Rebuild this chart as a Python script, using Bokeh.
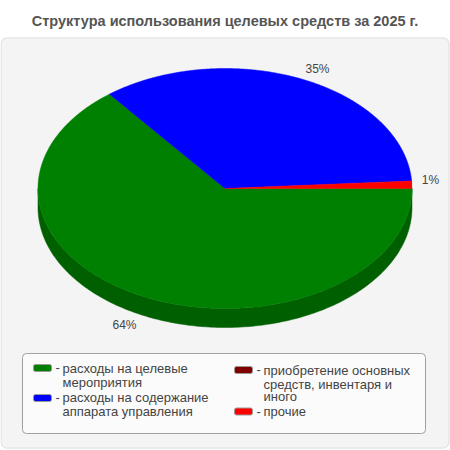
import numpy as np
from bokeh.plotting import figure
from bokeh.models import Range1d
from bokeh.core.properties import value
from bokeh.embed import file_html
from bokeh.resources import INLINE

title = "Структура использования целевых средств за 2025 г."
categories = ["расходы на целевые мероприятия", "расходы на содержание аппарата управления",
              "приобретение основных средств, инвентаря и иного", "прочие"]
values = [64.4, 34.6, 0.0, 1.0]
colors = ["#008000", "#0000ff", "#800000", "#ff0000"]
side_colors = ["#006000", "#0000c0", "#600000", "#c00000"]
pct_labels = ["64%", "35%", "", "1%"]
label_x = [124, 317, 0, 430]
label_y = [324, 68, 0, 179]

legend_left = [["расходы на целевые", "мероприятия"], ["расходы на содержание", "аппарата управления"]]
legend_right = [["приобретение основных", "средств, инвентаря и", "иного"], ["прочие"]]

FONT = value("Liberation Sans")
cx, cy, rx, ry, depth = 224.5, 188, 187, 120, 19

p = figure(width=450, height=450, output_backend="svg", toolbar_location=None,
           x_range=Range1d(0, 450), y_range=Range1d(450, 0), min_border=0,
           outline_line_color=None, background_fill_color="white", border_fill_color="white")
p.xaxis.visible = False
p.yaxis.visible = False
p.grid.visible = False

p.text([224.5], [20], text=[title], text_font=FONT, text_font_size="14.5px", text_font_style="bold",
       text_color="#555555", text_align="center", text_baseline="middle")

p.quad(left=[0.5], right=[448.5], top=[37.5], bottom=[447.5], fill_color="#f4f4f4",
       line_color="#e6e6e6", line_width=1.5, border_radius=6)

# pie: clockwise from 0 degrees
edges = np.concatenate([[0.0], np.cumsum(values)]) / sum(values) * 2 * np.pi
for i in range(len(values)):
    a0, a1 = edges[i], edges[i + 1]
    lo, hi = max(a0, 0.0), min(a1, np.pi)
    if hi > lo:
        t = np.linspace(lo, hi, 200)
        xs = cx + rx * np.cos(t)
        ys = cy + ry * np.sin(t)
        p.patch(np.r_[xs, xs[::-1]], np.r_[ys, ys[::-1] + depth],
                fill_color=side_colors[i], line_color=side_colors[i], line_width=0.5)
for i in range(len(values)):
    a0, a1 = edges[i], edges[i + 1]
    if a1 > a0:
        t = np.linspace(a0, a1, 300)
        p.patch(np.r_[cx, cx + rx * np.cos(t)], np.r_[cy, cy + ry * np.sin(t)],
                fill_color=colors[i], line_color=colors[i], line_width=0.5)

p.text(label_x, label_y, text=pct_labels, text_font=FONT, text_font_size="12px",
       text_color="#444444", text_align="center", text_baseline="middle")

# legend
p.quad(left=[22], right=[425], top=[353], bottom=[433], fill_color="#fbfbfb",
       line_color="#a0a0a0", line_width=1, border_radius=4)


def legend_col(x, entries, swatch_colors, swatch_ys, line_ys):
    for entry, c, sy, ys in zip(entries, swatch_colors, swatch_ys, line_ys):
        p.quad(left=[x], right=[x + 18], top=[sy - 3.5], bottom=[sy + 3.5], fill_color=c,
               line_color="#999999", line_width=1, border_radius=2)
        p.text([x + 22], [sy - 0.5], text=["-"], text_font=FONT, text_font_size="13px",
               text_color="#444444", text_align="left", text_baseline="middle")
        p.text([x + 29] * len(entry), ys, text=entry, text_font=FONT, text_font_size="13px",
               text_color="#444444", text_align="left", text_baseline="middle")


legend_col(33, legend_left, [colors[0], colors[1]], [367.5, 397.5], [[367.5, 381.5], [396.5, 410.5]])
legend_col(234, legend_right, [colors[2], colors[3]], [369.5, 411], [[369.5, 383.5, 395.5], [410.5]])

open("out.html", "w").write(file_html(p, INLINE))
